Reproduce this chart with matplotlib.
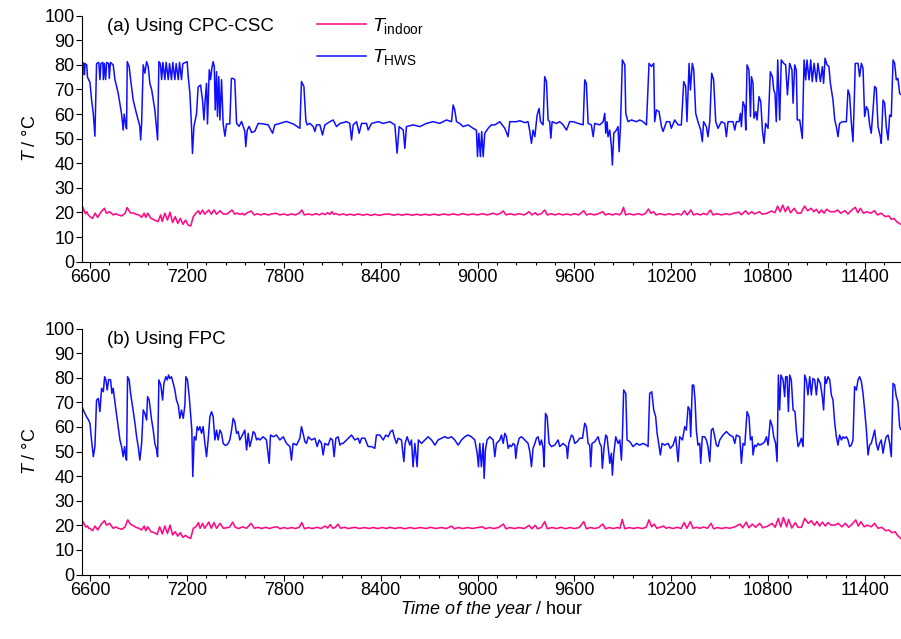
"""Indoor and hot-water-storage temperatures over the heating season,
CPC-CSC collector (top) versus FPC collector (bottom)."""

import matplotlib
matplotlib.use("Agg")
import matplotlib.pyplot as plt
from matplotlib.ticker import MultipleLocator

# (hour of year, temperature in degC)
HWS_A = [
    (6552, 72), (6555, 80.5), (6562, 80.8), (6566, 76), (6570, 80.5), (6580, 80), (6585, 75),
    (6592, 74), (6600, 73), (6610, 66), (6621, 60), (6631, 51), (6641, 80.5), (6655, 81),
    (6662, 74), (6668, 80.5), (6680, 81), (6683, 74), (6690, 80.5), (6697, 74), (6704, 81),
    (6716, 80.5), (6720, 74.5), (6727, 81), (6744, 80), (6755, 74), (6775, 68.5), (6796, 60),
    (6806, 53.5), (6812, 60), (6823, 55), (6827, 54), (6831, 81.3), (6843, 79.3), (6852, 74),
    (6868, 65.7), (6889, 60), (6909, 55), (6914, 49.5), (6920, 56), (6930, 80), (6940, 76.6),
    (6951, 81.3), (6961, 79.3), (6971, 72.5), (6982, 70), (7002, 61.7), (7019, 49.5),
    (7027, 81.3), (7036, 80.5), (7044, 74), (7052, 81), (7064, 74), (7072, 81), (7085, 74),
    (7093, 80.5), (7105, 74), (7113, 81), (7126, 74), (7134, 80.5), (7147, 74), (7155, 81),
    (7167, 74), (7175, 80.5), (7202, 81.3), (7209, 75), (7219, 68.5), (7229, 55), (7235, 44),
    (7244, 55), (7260, 60), (7270, 71), (7285, 71.8), (7297, 65.7), (7306, 57.6), (7312, 64.4),
    (7322, 72.5), (7328, 56), (7339, 78), (7347, 74), (7355, 78.6), (7363, 81.3), (7370, 79.3),
    (7376, 61.7), (7384, 77.2), (7390, 59), (7398, 75.2), (7405, 57.6), (7415, 74), (7425, 56),
    (7436, 51), (7446, 56), (7466, 56), (7476, 74.5), (7485, 74.5), (7497, 74), (7508, 56.2),
    (7524, 55), (7539, 57), (7549, 55), (7559, 53), (7565, 46.8), (7574, 53.5), (7586, 55),
    (7601, 52.5), (7621, 53), (7642, 56.2), (7673, 56), (7704, 55.6), (7731, 52.2),
    (7745, 55.6), (7776, 56.2), (7817, 57), (7858, 56), (7900, 54.2), (7910, 73.2),
    (7925, 71.2), (7937, 57.6), (7945, 55.6), (7962, 56.2), (7983, 54.9), (7993, 52.9),
    (8003, 55.6), (8024, 55.6), (8040, 51.5), (8055, 55.6), (8086, 56.9), (8106, 57.6),
    (8127, 54.9), (8148, 56.2), (8189, 56.9), (8209, 56.2), (8220, 49.5), (8230, 55.6),
    (8251, 56.9), (8267, 52.2), (8282, 56.2), (8313, 56.2), (8323, 53.5), (8344, 56.2),
    (8385, 56.9), (8416, 56.2), (8457, 56.9), (8488, 55.6), (8502, 44.1), (8515, 54.9),
    (8540, 53.5), (8550, 46.1), (8560, 54.9), (8601, 55.6), (8643, 54.9), (8684, 56.2),
    (8725, 56.9), (8766, 56.2), (8808, 57.6), (8839, 56.9), (8849, 63.7), (8859, 61.7),
    (8870, 56.9), (8890, 56.2), (8911, 54.9), (8942, 55.6), (8973, 54.2), (8993, 53.5),
    (9000, 42.7), (9008, 52.2), (9018, 42.7), (9026, 52.9), (9035, 42.7), (9045, 52.2),
    (9066, 54.2), (9086, 55.6), (9107, 55.6), (9138, 56.9), (9169, 54.2), (9189, 50.8),
    (9200, 56.9), (9241, 56.9), (9262, 57.3), (9293, 56.5), (9313, 56.9), (9324, 52.9),
    (9334, 48.1), (9344, 53.5), (9355, 50.8), (9369, 59.6), (9381, 62.3), (9390, 56.9),
    (9406, 55.6), (9416, 75.2), (9427, 73.2), (9437, 57.6), (9447, 56.9), (9454, 50.2),
    (9462, 56.9), (9489, 56.2), (9509, 56.9), (9530, 55.6), (9551, 53.5), (9571, 56.9),
    (9592, 56.9), (9623, 56.2), (9654, 55.6), (9664, 73.9), (9674, 72.5), (9685, 56.2),
    (9705, 55.6), (9716, 50.8), (9726, 56.2), (9757, 55.6), (9778, 56.9), (9788, 60.3),
    (9794, 52.2), (9802, 56.9), (9808, 50.8), (9819, 53.5), (9829, 46.8), (9835, 39.3),
    (9844, 52.2), (9860, 53.5), (9870, 54.9), (9877, 44.7), (9885, 54.9), (9897, 82.0),
    (9912, 80.0), (9918, 60.3), (9932, 56.9), (9953, 57.6), (9984, 56.9), (10004, 57.6),
    (10025, 56.9), (10046, 55.6), (10062, 80.6), (10077, 79.3), (10091, 80.6), (10097, 56.9),
    (10108, 61.7), (10124, 61.0), (10139, 54.9), (10149, 52.9), (10170, 56.9), (10190, 56.9),
    (10200, 54.2), (10221, 57.6), (10242, 55.6), (10262, 55.6), (10277, 73.2), (10289, 71.2),
    (10297, 56.9), (10310, 80.6), (10318, 69.8), (10330, 80.6), (10339, 77.9), (10351, 60.3),
    (10365, 56.9), (10382, 53.5), (10392, 48.8), (10400, 56.9), (10417, 54.9), (10427, 50.8),
    (10438, 56.9), (10450, 76.6), (10462, 73.9), (10475, 56.9), (10489, 54.2), (10510, 56.9),
    (10531, 56.2), (10541, 50.8), (10551, 56.9), (10582, 56.9), (10593, 53.5), (10603, 56.9),
    (10619, 56.9), (10628, 60.3), (10634, 54.9), (10644, 65.0), (10655, 63.0), (10661, 53.5),
    (10669, 80.0), (10681, 77.9), (10690, 59.0), (10696, 75.2), (10706, 72.5), (10712, 58.3),
    (10723, 61.0), (10731, 57.6), (10743, 67.1), (10754, 65.0), (10764, 53.5), (10774, 48.1),
    (10784, 56.2), (10799, 54.2), (10813, 77.2), (10826, 75.2), (10834, 69.8), (10842, 68.4),
    (10850, 56.9), (10859, 82.0), (10871, 57.6), (10881, 82.0), (10896, 80.6), (10908, 80.0),
    (10919, 67.8), (10933, 80.6), (10947, 77.9), (10954, 64.4), (10964, 80.0), (10974, 77.9),
    (10980, 57.6), (10995, 57.6), (11011, 50.1), (11022, 82.0), (11032, 73.9), (11040, 82.0),
    (11053, 73.9), (11063, 82.0), (11073, 73.2), (11084, 80.6), (11098, 73.2), (11108, 80.6),
    (11123, 73.2), (11135, 79.3), (11143, 72.5), (11152, 82.7), (11164, 80.0), (11176, 79.3),
    (11185, 72.5), (11201, 65.7), (11212, 57.6), (11222, 54.9), (11232, 50.8), (11242, 56.2),
    (11259, 56.9), (11284, 56.9), (11294, 69.8), (11304, 67.8), (11315, 56.2), (11325, 48.8),
    (11333, 65.7), (11339, 80.6), (11356, 80.6), (11366, 75.2), (11377, 80.6), (11387, 78.6),
    (11397, 59.0), (11408, 63.0), (11418, 61.7), (11428, 55.6), (11438, 52.2), (11449, 61.7),
    (11459, 71.2), (11469, 70.5), (11480, 54.9), (11494, 50.8), (11500, 48.1), (11511, 65.7),
    (11521, 64.4), (11531, 54.9), (11542, 49.5), (11552, 59.6), (11562, 59.0), (11573, 82.0),
    (11583, 80.6), (11593, 73.9), (11603, 74.5), (11614, 68.4), (11620, 68),
]

HWS_B = [
    (6552, 68), (6565, 66), (6580, 64), (6590, 63), (6600, 61.5), (6610, 54.7), (6621, 47.9),
    (6631, 52.0), (6641, 70.9), (6652, 71.6), (6662, 66.2), (6672, 75.7), (6683, 74.3),
    (6691, 80.4), (6699, 79.1), (6707, 75.0), (6716, 79.3), (6728, 79.1), (6736, 73.6),
    (6744, 75.7), (6761, 66.9), (6775, 60.1), (6786, 54.7), (6796, 52.0), (6806, 47.9),
    (6815, 52.0), (6823, 47.2), (6827, 46.5), (6833, 80.4), (6843, 79.1), (6852, 73.6),
    (6864, 68.2), (6879, 61.5), (6889, 56.0), (6899, 52.0), (6909, 46.5), (6920, 53.3),
    (6930, 66.9), (6940, 65.5), (6951, 62.8), (6957, 72.3), (6967, 70.9), (6982, 62.8),
    (6992, 58.7), (7002, 53.3), (7013, 50.6), (7019, 47.9), (7027, 79.1), (7039, 77.0),
    (7050, 70.9), (7058, 77.7), (7070, 80.4), (7079, 79.1), (7087, 81.1), (7095, 79.7),
    (7105, 80.4), (7116, 77.7), (7126, 75.0), (7136, 70.9), (7147, 68.9), (7157, 63.5),
    (7167, 66.9), (7178, 63.5), (7188, 68.9), (7194, 80.4), (7204, 79.1), (7215, 72.3),
    (7223, 65.5), (7231, 58.7), (7237, 39.8), (7246, 56.0), (7256, 54.7), (7264, 60.1),
    (7273, 58.7), (7281, 60.1), (7291, 57.4), (7301, 60.1), (7312, 53.3), (7322, 47.9),
    (7332, 54.7), (7343, 64.2), (7353, 66.2), (7363, 64.2), (7374, 54.7), (7384, 58.7),
    (7394, 54.7), (7405, 58.7), (7415, 57.4), (7425, 53.3), (7436, 52.6), (7446, 52.6),
    (7456, 53.3), (7466, 54.7), (7477, 58.7), (7487, 63.5), (7497, 62.1), (7508, 57.4),
    (7518, 58.1), (7528, 54.7), (7539, 56.0), (7549, 57.4), (7559, 58.7), (7570, 50.6),
    (7580, 57.4), (7590, 52.0), (7601, 54.7), (7611, 58.1), (7621, 57.4), (7632, 54.7),
    (7642, 55.4), (7652, 54.7), (7673, 56.0), (7693, 54.7), (7710, 45.2), (7718, 56.7),
    (7735, 56.0), (7755, 56.7), (7776, 54.7), (7797, 56.0), (7817, 53.3), (7838, 52.0),
    (7848, 46.5), (7858, 53.3), (7879, 52.6), (7900, 55.4), (7910, 60.1), (7920, 57.4),
    (7931, 54.0), (7941, 53.3), (7952, 56.0), (7972, 54.7), (7993, 55.4), (8007, 52.0),
    (8020, 54.7), (8034, 53.3), (8044, 48.6), (8055, 53.3), (8075, 52.6), (8090, 55.4),
    (8102, 54.7), (8112, 47.9), (8123, 55.4), (8137, 56.0), (8148, 52.6), (8158, 53.3),
    (8168, 53.3), (8189, 54.7), (8209, 56.0), (8220, 56.7), (8240, 54.7), (8261, 55.4),
    (8271, 53.3), (8282, 55.4), (8302, 55.4), (8323, 52.0), (8344, 52.0), (8364, 51.3),
    (8374, 56.7), (8395, 56.7), (8416, 54.7), (8432, 56.7), (8447, 56.0), (8461, 58.1),
    (8474, 58.7), (8484, 56.0), (8498, 53.3), (8509, 55.4), (8529, 54.7), (8544, 45.9),
    (8552, 53.3), (8564, 56.0), (8581, 52.6), (8591, 54.7), (8601, 43.8), (8612, 53.3),
    (8626, 43.8), (8634, 54.7), (8653, 53.3), (8674, 54.7), (8694, 56.0), (8715, 54.7),
    (8736, 52.6), (8756, 54.7), (8777, 55.4), (8797, 56.0), (8818, 55.4), (8839, 56.0),
    (8859, 54.7), (8880, 52.6), (8901, 54.7), (8921, 56.0), (8942, 56.7), (8962, 56.0),
    (8983, 54.7), (8998, 49.3), (9006, 43.8), (9014, 53.3), (9024, 43.8), (9035, 53.3),
    (9041, 39.1), (9049, 50.6), (9059, 54.7), (9076, 56.0), (9097, 54.7), (9107, 47.9),
    (9117, 53.3), (9138, 54.7), (9148, 56.7), (9159, 53.3), (9169, 57.4), (9179, 56.0),
    (9190, 51.3), (9200, 52.6), (9210, 52.0), (9221, 53.3), (9231, 52.6), (9237, 47.2),
    (9245, 52.0), (9258, 55.4), (9272, 56.0), (9293, 54.7), (9313, 53.3), (9324, 49.9),
    (9334, 43.8), (9344, 51.3), (9355, 53.3), (9365, 55.4), (9375, 56.0), (9386, 52.6),
    (9396, 54.7), (9406, 51.3), (9412, 43.8), (9421, 65.5), (9431, 64.2), (9443, 53.3),
    (9458, 52.0), (9478, 52.6), (9499, 54.7), (9509, 52.0), (9530, 53.3), (9551, 52.0),
    (9557, 47.2), (9565, 53.3), (9582, 56.7), (9592, 56.0), (9602, 53.3), (9617, 54.0),
    (9633, 55.4), (9650, 55.4), (9664, 61.5), (9674, 60.1), (9685, 53.3), (9695, 52.6),
    (9701, 43.8), (9709, 53.3), (9726, 54.0), (9747, 56.0), (9757, 53.3), (9767, 52.0),
    (9773, 43.2), (9784, 52.0), (9794, 56.7), (9802, 56.0), (9813, 49.3), (9819, 45.2),
    (9829, 49.3), (9835, 40.4), (9844, 49.3), (9856, 56.0), (9870, 53.3), (9881, 54.7),
    (9891, 46.5), (9897, 56.0), (9905, 75.0), (9918, 73.6), (9926, 54.7), (9943, 54.0),
    (9963, 52.0), (9984, 53.3), (10004, 52.6), (10025, 53.3), (10046, 52.6), (10056, 52.0),
    (10066, 73.6), (10079, 74.3), (10091, 66.9), (10103, 64.2), (10112, 57.4), (10122, 53.3),
    (10132, 48.6), (10143, 53.3), (10159, 52.6), (10180, 53.3), (10194, 51.3), (10211, 52.6),
    (10227, 56.0), (10242, 45.9), (10252, 56.0), (10269, 54.7), (10283, 60.1), (10293, 58.7),
    (10304, 68.2), (10314, 66.9), (10320, 56.0), (10330, 77.0), (10339, 77.0), (10347, 70.9),
    (10355, 58.7), (10365, 52.6), (10376, 53.3), (10382, 45.2), (10392, 56.0), (10407, 56.0),
    (10417, 54.7), (10427, 52.0), (10438, 45.9), (10448, 58.7), (10458, 59.4), (10469, 56.0),
    (10479, 52.6), (10489, 52.0), (10500, 54.7), (10520, 56.7), (10541, 58.1), (10562, 56.7),
    (10582, 56.0), (10593, 53.3), (10603, 56.7), (10624, 56.0), (10634, 45.2), (10644, 53.3),
    (10655, 52.6), (10669, 66.2), (10681, 64.2), (10690, 54.7), (10700, 56.0), (10706, 48.6),
    (10716, 52.6), (10727, 52.0), (10737, 53.3), (10747, 52.6), (10768, 53.3), (10778, 54.0),
    (10789, 56.0), (10799, 52.6), (10813, 62.8), (10826, 60.1), (10834, 56.0), (10846, 53.3),
    (10855, 45.9), (10863, 81.1), (10871, 66.9), (10879, 81.1), (10892, 79.1), (10902, 72.3),
    (10908, 80.4), (10917, 80.4), (10925, 66.2), (10933, 81.1), (10943, 79.1), (10954, 66.9),
    (10966, 66.2), (10974, 58.7), (10985, 52.0), (10995, 53.3), (11005, 55.4), (11016, 52.0),
    (11026, 81.1), (11036, 79.1), (11046, 73.0), (11057, 80.4), (11067, 73.0), (11077, 79.7),
    (11088, 79.1), (11098, 73.0), (11108, 79.7), (11123, 77.7), (11135, 72.3), (11143, 66.9),
    (11152, 80.4), (11160, 77.7), (11170, 80.4), (11181, 79.1), (11191, 73.0), (11201, 70.9),
    (11212, 61.5), (11222, 56.0), (11232, 52.6), (11242, 56.7), (11253, 54.7), (11263, 56.0),
    (11273, 55.4), (11284, 56.0), (11294, 54.7), (11304, 52.0), (11315, 52.6), (11325, 54.7),
    (11335, 76.4), (11346, 75.0), (11356, 79.1), (11366, 80.4), (11377, 78.4), (11387, 73.6),
    (11397, 66.9), (11408, 58.7), (11418, 48.6), (11428, 52.6), (11438, 53.3), (11449, 56.0),
    (11459, 58.7), (11469, 53.3), (11480, 50.6), (11490, 53.3), (11500, 54.7), (11511, 49.3),
    (11521, 53.3), (11531, 56.0), (11542, 56.7), (11552, 53.3), (11562, 47.9), (11573, 77.7),
    (11583, 77.0), (11593, 72.3), (11603, 70.3), (11614, 60.1), (11620, 59),
]

INDOOR_A = [
    (6552, 19.8), (6558, 22.0), (6565, 20.5), (6572, 19.5), (6580, 20.3), (6590, 19.0),
    (6600, 18.3), (6616, 17.6), (6632, 19.7), (6648, 18.0), (6670, 20.3), (6690, 21.7),
    (6702, 19.7), (6722, 20.3), (6744, 19.0), (6760, 19.5), (6776, 19.0), (6798, 18.6),
    (6818, 19.7), (6830, 22.0), (6850, 19.9), (6872, 19.7), (6888, 19.2), (6904, 19.0),
    (6920, 18.0), (6936, 19.7), (6946, 18.0), (6958, 19.7), (6978, 17.6), (7000, 16.9),
    (7022, 16.3), (7038, 19.0), (7048, 16.3), (7064, 19.7), (7080, 16.9), (7096, 20.1),
    (7112, 15.9), (7128, 18.3), (7144, 15.6), (7160, 17.6), (7176, 15.2), (7192, 16.9),
    (7208, 14.9), (7224, 14.5), (7240, 18.3), (7256, 19.7), (7272, 20.7), (7282, 19.3),
    (7298, 21.0), (7310, 19.3), (7336, 21.0), (7352, 19.3), (7368, 21.0), (7384, 19.3),
    (7406, 20.7), (7426, 19.3), (7450, 19.4), (7480, 21.0), (7496, 19.3), (7512, 19.8),
    (7528, 19.2), (7544, 19.6), (7554, 19.0), (7576, 19.9), (7598, 20.6), (7618, 19.0),
    (7636, 19.5), (7656, 19.0), (7680, 19.5), (7704, 19.0), (7728, 19.4), (7752, 19.7),
    (7776, 19.0), (7800, 19.4), (7824, 18.9), (7848, 19.4), (7872, 19.0), (7896, 19.7),
    (7912, 21.0), (7928, 19.0), (7952, 19.4), (7976, 19.0), (8000, 19.5), (8020, 19.0),
    (8040, 19.7), (8056, 19.1), (8072, 19.9), (8085, 19.2), (8098, 20.3), (8110, 19.2),
    (8120, 19.6), (8144, 19.0), (8168, 19.4), (8190, 18.9), (8210, 19.3), (8236, 18.9),
    (8260, 19.4), (8290, 18.9), (8316, 19.3), (8340, 18.8), (8364, 19.3), (8390, 18.8),
    (8416, 19.2), (8450, 19.4), (8480, 18.9), (8508, 19.3), (8532, 18.9), (8560, 19.3),
    (8600, 18.9), (8624, 19.3), (8648, 18.9), (8676, 19.3), (8700, 18.9), (8730, 19.3),
    (8760, 18.9), (8790, 19.4), (8820, 19.0), (8850, 19.4), (8880, 19.0), (8910, 19.5),
    (8940, 19.0), (8970, 19.4), (9000, 19.0), (9032, 19.5), (9060, 19.0), (9096, 19.7),
    (9120, 19.1), (9140, 19.6), (9160, 20.6), (9176, 19.0), (9200, 19.5), (9228, 19.0),
    (9256, 19.5), (9290, 19.0), (9320, 20.3), (9336, 19.0), (9358, 19.9), (9371, 19.0),
    (9395, 19.5), (9416, 21.0), (9432, 19.0), (9456, 19.5), (9480, 19.0), (9504, 19.5),
    (9528, 19.0), (9552, 19.4), (9576, 19.0), (9600, 19.5), (9626, 19.0), (9658, 20.7),
    (9674, 19.0), (9698, 19.5), (9722, 19.0), (9748, 19.5), (9776, 20.3), (9792, 19.0),
    (9812, 19.5), (9834, 19.0), (9860, 19.5), (9880, 19.0), (9892, 19.9), (9904, 22.1),
    (9917, 19.0), (9940, 19.5), (9966, 19.0), (9994, 19.5), (10020, 19.0), (10040, 19.6),
    (10058, 21.4), (10074, 19.7), (10090, 20.3), (10106, 19.0), (10130, 19.5), (10160, 19.0),
    (10186, 19.5), (10210, 19.0), (10240, 19.5), (10262, 19.0), (10282, 20.7), (10298, 19.0),
    (10321, 21.0), (10337, 19.0), (10360, 19.5), (10378, 19.0), (10400, 19.6), (10420, 19.1),
    (10442, 21.0), (10458, 19.0), (10480, 19.5), (10510, 19.0), (10538, 19.5), (10560, 19.1),
    (10586, 19.7), (10618, 20.1), (10634, 19.1), (10660, 20.7), (10676, 19.3), (10698, 20.3),
    (10714, 19.4), (10746, 20.3), (10762, 19.3), (10794, 19.7), (10820, 20.6), (10842, 19.9),
    (10858, 22.6), (10874, 20.3), (10890, 23.0), (10906, 20.3), (10922, 22.4), (10938, 19.9),
    (10961, 21.7), (10980, 19.7), (11002, 19.7), (11025, 22.6), (11044, 20.7), (11066, 21.7),
    (11082, 20.3), (11098, 21.3), (11114, 19.7), (11130, 21.0), (11146, 19.7), (11162, 21.3),
    (11185, 20.3), (11210, 20.3), (11230, 21.0), (11249, 19.7), (11275, 20.7), (11294, 19.4),
    (11313, 20.7), (11339, 22.1), (11355, 19.9), (11371, 21.7), (11390, 19.7), (11410, 20.3),
    (11435, 19.7), (11458, 20.7), (11477, 19.0), (11499, 19.7), (11525, 18.3), (11547, 18.6),
    (11563, 17.2), (11579, 17.6), (11595, 16.3), (11620, 15.2),
]

INDOOR_B = [
    (6552, 20.0), (6558, 21.5), (6566, 20.3), (6575, 19.3), (6585, 19.8), (6592, 18.8),
    (6600, 18.8), (6616, 17.8), (6632, 19.7), (6648, 18.1), (6670, 20.5), (6690, 21.9),
    (6702, 20.1), (6722, 20.8), (6744, 18.8), (6760, 19.3), (6776, 18.8), (6798, 18.4),
    (6818, 19.4), (6834, 22.2), (6850, 20.5), (6872, 19.7), (6888, 19.1), (6904, 18.8),
    (6920, 18.1), (6936, 19.7), (6946, 17.8), (6958, 19.4), (6978, 17.4), (7000, 17.0),
    (7016, 16.3), (7032, 19.4), (7048, 16.5), (7064, 19.7), (7080, 16.7), (7096, 20.1),
    (7112, 16.1), (7128, 17.4), (7144, 15.6), (7160, 17.0), (7176, 15.1), (7192, 15.9),
    (7208, 15.1), (7224, 14.7), (7240, 18.8), (7256, 19.4), (7272, 21.1), (7282, 18.8),
    (7298, 20.8), (7310, 18.8), (7336, 21.3), (7352, 18.8), (7368, 21.1), (7384, 18.8),
    (7406, 20.8), (7426, 18.8), (7464, 19.2), (7484, 21.3), (7500, 19.2), (7522, 18.7),
    (7544, 19.4), (7570, 18.8), (7598, 20.8), (7618, 18.8), (7640, 19.2), (7664, 18.7),
    (7688, 19.2), (7712, 18.7), (7736, 19.2), (7758, 19.4), (7778, 18.6), (7800, 19.1),
    (7824, 18.7), (7848, 19.1), (7872, 18.7), (7896, 19.2), (7912, 21.1), (7928, 18.6),
    (7952, 19.1), (7976, 18.7), (8008, 19.2), (8030, 18.7), (8056, 19.7), (8072, 18.9),
    (8088, 20.3), (8104, 18.8), (8120, 19.2), (8136, 20.5), (8152, 18.8), (8176, 19.2),
    (8200, 18.7), (8240, 19.2), (8270, 18.7), (8300, 19.1), (8328, 18.7), (8354, 19.1),
    (8380, 18.7), (8410, 19.1), (8436, 18.7), (8456, 19.2), (8488, 18.7), (8520, 19.1),
    (8550, 18.6), (8580, 19.1), (8610, 18.7), (8648, 19.1), (8680, 18.7), (8710, 19.2),
    (8740, 18.7), (8776, 19.1), (8808, 18.7), (8840, 19.7), (8856, 18.6), (8880, 19.1),
    (8910, 18.7), (8940, 19.1), (8968, 18.7), (9000, 19.1), (9032, 19.4), (9048, 18.6),
    (9075, 19.1), (9100, 18.7), (9130, 19.1), (9160, 20.5), (9176, 18.6), (9200, 19.1),
    (9228, 18.7), (9256, 19.1), (9290, 18.7), (9320, 20.0), (9336, 18.6), (9358, 20.0),
    (9371, 18.6), (9395, 19.1), (9416, 21.5), (9432, 18.6), (9460, 19.1), (9490, 18.7),
    (9518, 19.2), (9544, 18.6), (9572, 19.1), (9600, 18.7), (9630, 19.1), (9658, 21.5),
    (9674, 18.6), (9700, 19.1), (9726, 18.7), (9750, 19.1), (9776, 20.5), (9792, 18.6),
    (9816, 19.1), (9840, 18.7), (9866, 19.1), (9882, 18.8), (9896, 22.4), (9912, 18.6),
    (9940, 19.1), (9966, 18.7), (9992, 19.1), (10020, 18.7), (10044, 19.2), (10062, 22.2),
    (10078, 19.4), (10094, 20.5), (10110, 18.8), (10130, 19.2), (10152, 19.7), (10168, 18.8),
    (10184, 19.2), (10210, 18.7), (10236, 19.2), (10260, 18.7), (10280, 21.1), (10296, 18.8),
    (10318, 21.5), (10334, 18.8), (10356, 19.2), (10376, 18.8), (10400, 19.3), (10424, 18.8),
    (10446, 20.8), (10462, 18.6), (10486, 19.1), (10512, 18.7), (10536, 19.1), (10562, 18.8),
    (10594, 19.4), (10626, 20.5), (10642, 19.0), (10664, 21.3), (10680, 19.0), (10702, 20.5),
    (10722, 19.2), (10747, 20.8), (10766, 19.0), (10798, 19.7), (10824, 20.8), (10843, 19.2),
    (10862, 22.8), (10878, 19.4), (10894, 23.2), (10914, 19.4), (10926, 22.4), (10946, 18.9),
    (10968, 21.1), (10984, 19.2), (11006, 19.2), (11026, 22.8), (11048, 20.8), (11067, 21.9),
    (11086, 20.0), (11102, 21.6), (11118, 19.7), (11136, 21.3), (11154, 19.7), (11170, 21.1),
    (11189, 20.1), (11214, 20.1), (11234, 20.8), (11256, 19.4), (11278, 20.8), (11298, 19.2),
    (11320, 20.5), (11342, 22.2), (11358, 19.7), (11374, 21.5), (11394, 19.4), (11414, 20.1),
    (11438, 19.4), (11458, 20.8), (11480, 18.8), (11502, 19.2), (11528, 17.8), (11547, 18.1),
    (11566, 17.0), (11586, 17.4), (11598, 16.1), (11620, 14.7),
]

PANEL_TITLES = ["(a) Using CPC-CSC", "(b) Using FPC"]
X_RANGE = (6552, 11620)
X_TICKS = [6600, 7200, 7800, 8400, 9000, 9600, 10200, 10800, 11400]

COLOR_INDOOR = "#ff0a84"
COLOR_HWS = "#0f0fff"

plt.rcParams["font.family"] = ["Liberation Sans", "DejaVu Sans"]
plt.rcParams["mathtext.fontset"] = "custom"
plt.rcParams["mathtext.rm"] = "Liberation Sans"
plt.rcParams["mathtext.it"] = "Liberation Sans:italic"
plt.rcParams["mathtext.default"] = "regular"


def _split(pairs):
    return [p[0] for p in pairs], [p[1] for p in pairs]


def _draw_panel(ax, indoor, hws, title):
    hx, hy = _split(indoor)
    ax.plot(hx, hy, color=COLOR_INDOOR, lw=1.15, label=r"$\mathit{T}_{\rm indoor}$")
    wx, wy = _split(hws)
    ax.plot(wx, wy, color=COLOR_HWS, lw=1.1, label=r"$\mathit{T}_{\rm HWS}$")

    ax.set_xlim(*X_RANGE)
    ax.set_ylim(0, 100)
    ax.set_xticks(X_TICKS)
    ax.xaxis.set_minor_locator(MultipleLocator(120))
    ax.yaxis.set_major_locator(MultipleLocator(10))
    ax.tick_params(axis="both", which="major", direction="out", length=4.5,
                   width=0.8, labelsize=13, pad=1)
    ax.tick_params(axis="x", which="minor", direction="out", length=2.5, width=0.8)
    for side in ("top", "right"):
        ax.spines[side].set_visible(False)
    for side in ("left", "bottom"):
        ax.spines[side].set_linewidth(0.8)
    ax.set_ylabel(r"$\mathit{T}$ / °C", fontsize=13, labelpad=4)
    ax.text(0.03, 0.955, title, transform=ax.transAxes, fontsize=13.5,
            ha="left", va="center")


def main():
    fig = plt.figure(figsize=(9.01, 6.39), dpi=100)
    ax_top = fig.add_axes([0.0912, 0.5905, 0.9084, 0.385])
    ax_bot = fig.add_axes([0.0912, 0.1009, 0.9084, 0.385])

    _draw_panel(ax_top, INDOOR_A, HWS_A, PANEL_TITLES[0])
    _draw_panel(ax_bot, INDOOR_B, HWS_B, PANEL_TITLES[1])

    ax_bot.set_xlabel(r"$\mathit{Time\ of\ the\ year}$ / hour", fontsize=13, labelpad=0)

    ax_top.legend(loc="upper left", bbox_to_anchor=(0.287, 1.0), frameon=False,
                  fontsize=14, handlelength=2.5, handletextpad=0.35,
                  labelspacing=0.6, borderpad=0, borderaxespad=0)

    fig.savefig("out.png", dpi=100)
    plt.close(fig)


if __name__ == "__main__":
    main()
